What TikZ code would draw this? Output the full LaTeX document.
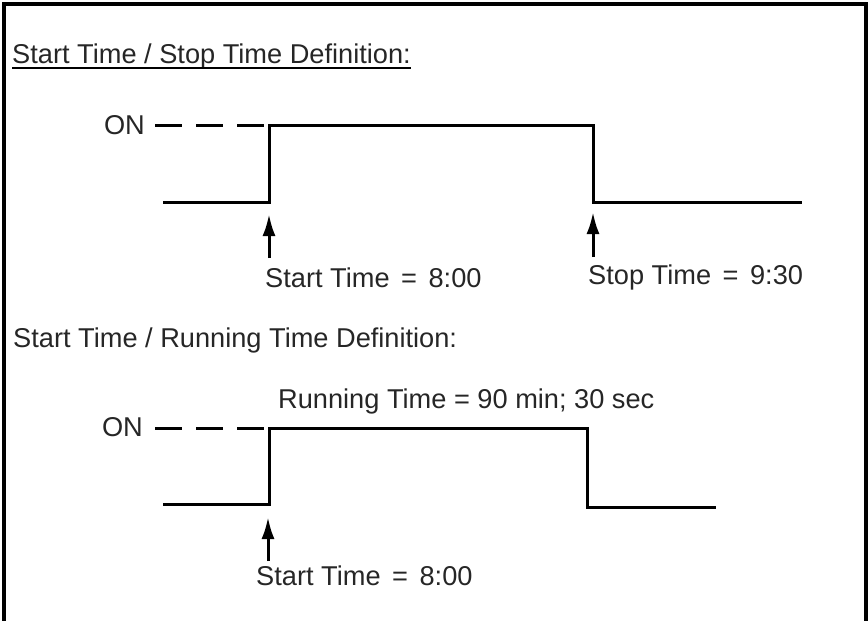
\documentclass[tikz,border=0pt]{standalone}
\usepackage{fontspec}
\setmainfont{Liberation Sans}
\usetikzlibrary{arrows.meta}
\begin{document}
\begin{tikzpicture}[x=1pt,y=-1pt,
  wave/.style={line width=3pt, line join=miter},
  dashon/.style={line width=3pt, dash pattern=on 26.5pt off 14.5pt},
  uparrow/.style={line width=3pt, -{Latex[length=22pt,width=13pt]}},
  lbl/.style={inner sep=0pt, text=black!85, font=\fontsize{27.2}{32}\selectfont},
  frame/.style={line width=3.2pt}]
\useasboundingbox (0,0) rectangle (868,621);
\draw[frame] (4,630) -- (4,4) -- (866,4) -- (866,630);

% ---------- Section 1 ----------
\node[lbl, anchor=base west] (t1) at (12,63) {Start Time / Stop Time Definition:};
\draw[line width=1.6pt] ([yshift=-5pt]t1.base west) -- ([yshift=-5pt]t1.base east);

\node[lbl, anchor=base east] (on1) at (145,134) {ON};
\coordinate (d1s) at (155,125);
\coordinate (d1e) at (265,125);
\draw[dashon] (d1s) -- (d1e);

\coordinate (l1a) at (163,202);
\coordinate (r1b) at (269,202);
\coordinate (r1t) at (269,125);
\coordinate (f1t) at (593,125);
\coordinate (f1b) at (593,202);
\coordinate (l1e) at (802,202);
\draw[wave] (l1a) -- (r1b) -- (r1t) -- (f1t) -- (f1b) -- (l1e);

\coordinate (a1tail) at (269,258);
\coordinate (a1tip) at (269,214);
\draw[uparrow] (a1tail) -- (a1tip);
\coordinate (a2tail) at (593,257);
\coordinate (a2tip) at (593,212);
\draw[uparrow] (a2tail) -- (a2tip);

\node[lbl, anchor=base west] (start1) at (265,287) {Start Time\hspace{4pt} = \hspace{4pt}8:00};
\node[lbl, anchor=base west] (stop1) at (588,284) {Stop Time\hspace{4pt} = \hspace{4pt}9:30};

% ---------- Section 2 ----------
\node[lbl, anchor=base west] (t2) at (13,347) {Start Time / Running Time Definition:};

\node[lbl, anchor=base west] (run) at (278,408) {Running Time = 90 min; 30 sec};

\node[lbl, anchor=base east] (on2) at (143,436) {ON};
\coordinate (d2s) at (155,428);
\coordinate (d2e) at (265,428);
\draw[dashon] (d2s) -- (d2e);

\coordinate (l2a) at (163,504);
\coordinate (r2b) at (269,504);
\coordinate (r2t) at (269,428);
\coordinate (f2t) at (587,428);
\coordinate (f2b) at (587,507);
\coordinate (l2e) at (716,507);
\draw[wave] (l2a) -- (r2b) -- (r2t) -- (f2t) -- (f2b) -- (l2e);

\coordinate (a3tail) at (268,561);
\coordinate (a3tip) at (268,517);
\draw[uparrow] (a3tail) -- (a3tip);

\node[lbl, anchor=base west] (start2) at (256,585) {Start Time\hspace{4pt} = \hspace{4pt}8:00};
\end{tikzpicture}
\end{document}
